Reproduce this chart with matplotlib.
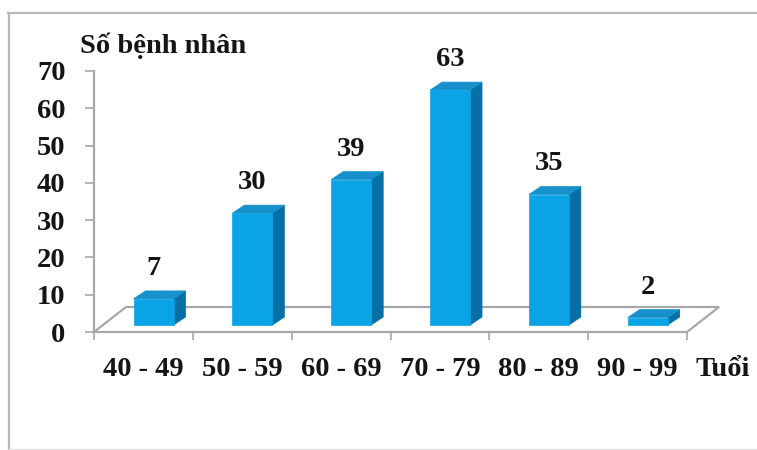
import matplotlib
matplotlib.use("Agg")
import matplotlib.pyplot as plt
from matplotlib.patches import Polygon, Rectangle
from matplotlib.lines import Line2D

# Data
age_groups = ["40 - 49", "50 - 59", "60 - 69", "70 - 79", "80 - 89", "90 - 99"]
patients = [7, 30, 39, 63, 35, 2]
y_ticks = [0, 10, 20, 30, 40, 50, 60, 70]

FONT = ["Liberation Serif", "DejaVu Serif"]
TXT = "#151515"
FRONT = "#0AA4E6"
SIDE = "#066FA6"
TOP = "#1691CB"
GRID = "#A8A8A8"
FS = 20.5

W, H, DPI = 757, 450, 100
fig = plt.figure(figsize=(W / DPI, H / DPI), dpi=DPI)
fig.patch.set_facecolor("white")

# outer frame
fig.add_artist(Line2D([8 / W, 1], [1 - 12.5 / H, 1 - 12.5 / H], color="#B8B8B8", lw=1.6))
fig.add_artist(Line2D([9 / W, 9 / W], [0, 1 - 12.5 / H], color="#B8B8B8", lw=1.6))
fig.add_artist(Line2D([9 / W, 1], [1.5 / H, 1.5 / H], color="#E0E0E0", lw=1.0))

ax_l, ax_r, ax_t, ax_b = 94, 687, 71, 332
ax = fig.add_axes([ax_l / W, 1 - ax_b / H, (ax_r - ax_l) / W, (ax_b - ax_t) / H])
n = len(patients)
ax.set_xlim(0, n)
ax.set_ylim(0, 70)

# pixel -> data scale
sx = (ax_r - ax_l) / n
sy = (ax_b - ax_t) / 70

# floor (3D base plane)
fdx, fdy = 32 / sx, 25 / sy
floor = [(0, 0), (fdx, fdy), (n + fdx, fdy), (n, 0)]
ax.add_patch(Polygon(floor, closed=False, fill=False, edgecolor=GRID, lw=1.6,
                     clip_on=False, zorder=1))

# bars with depth
bdx, bdy = 12 / sx, 8 / sy
base = 7 / sy
x_off, bw = 0.40, 40 / sx
for i, v in enumerate(patients):
    x0 = i + x_off
    x1 = x0 + bw
    top = base + v
    ax.add_patch(Polygon([(x1, base), (x1, top), (x1 + bdx, top + bdy), (x1 + bdx, base + bdy)],
                         closed=True, facecolor=SIDE, edgecolor=SIDE, lw=0.5, zorder=3))
    ax.add_patch(Polygon([(x0, top), (x1, top), (x1 + bdx, top + bdy), (x0 + bdx, top + bdy)],
                         closed=True, facecolor=TOP, edgecolor=TOP, lw=0.5, zorder=3))
    ax.add_patch(Rectangle((x0, base), bw, v, facecolor=FRONT, edgecolor=FRONT, lw=0.5, zorder=4))
    ax.annotate(str(v), xy=(x0 + bw / 2, top + bdy), xytext=(0, 10),
                textcoords="offset pixels", ha="center", va="bottom",
                fontsize=FS, fontweight="bold", family=FONT, color=TXT, zorder=5)

# axes styling
for s in ["top", "right"]:
    ax.spines[s].set_visible(False)
for s in ["left", "bottom"]:
    ax.spines[s].set_color(GRID)
    ax.spines[s].set_linewidth(1.6)
ax.set_facecolor("none")

ax.set_yticks(y_ticks)
ax.set_yticklabels([str(t) for t in y_ticks])
ax.tick_params(axis="y", length=6.5, width=1.2, color=GRID, pad=14)

ax.set_xticks(range(n + 1))
ax.set_xticklabels([""] * (n + 1))
ax.set_xticks([i + 0.5 for i in range(n)], minor=True)
ax.set_xticklabels(age_groups, minor=True)
ax.tick_params(axis="x", which="major", length=6, width=1.2, color=GRID)
ax.tick_params(axis="x", which="minor", length=0, pad=18)

for lab in ax.get_yticklabels() + ax.get_xticklabels(minor=True):
    lab.set_fontfamily(FONT)
    lab.set_fontweight("bold")
    lab.set_fontsize(FS)
    lab.set_color(TXT)

fig.text(80 / W, 1 - 53 / H, "Số bệnh nhân", ha="left", va="baseline",
         fontsize=FS, fontweight="bold", family=FONT, color=TXT)
fig.text(696 / W, 1 - 376 / H, "Tuổi", ha="left", va="baseline",
         fontsize=FS, fontweight="bold", family=FONT, color=TXT)

fig.savefig("out.png", dpi=DPI, facecolor="white")
